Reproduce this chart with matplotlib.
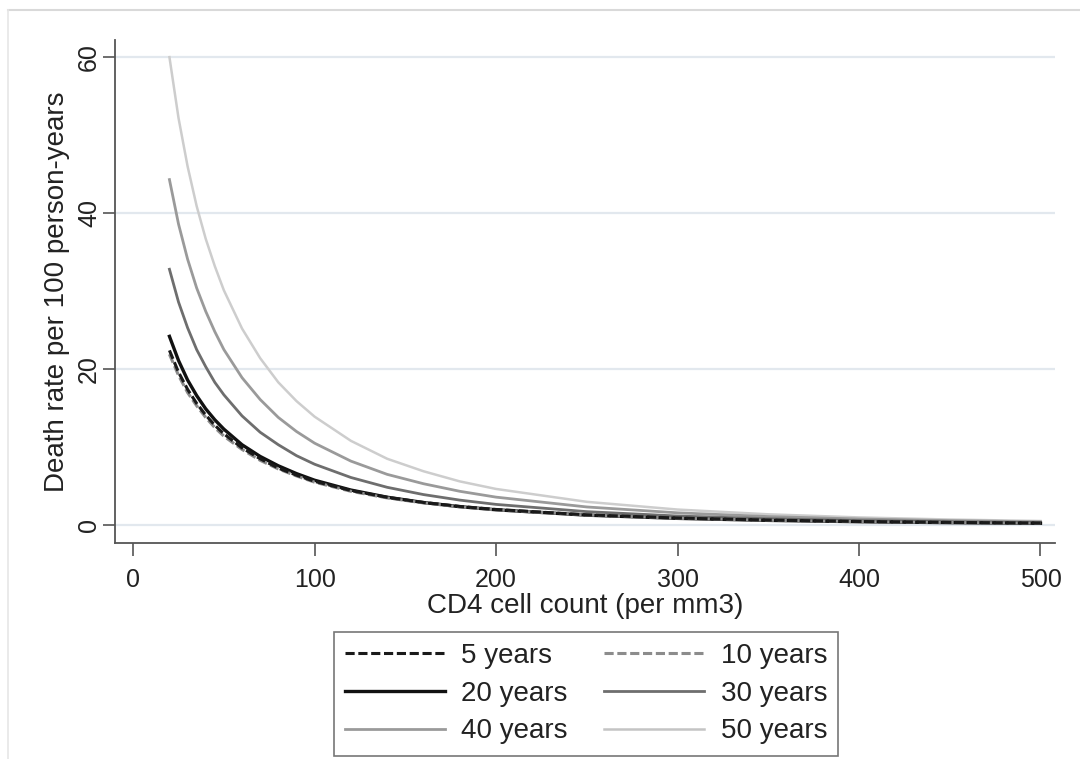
import numpy as np
import matplotlib
matplotlib.use("Agg")
import matplotlib.pyplot as plt
from matplotlib.lines import Line2D

plt.rcParams['font.family'] = ['Liberation Sans', 'DejaVu Sans']

# CD4 cell count (per mm3)
cd4 = [20, 25, 30, 35, 40, 45, 50, 60, 70, 80, 90, 100, 120, 140, 160, 180,
       200, 250, 300, 350, 400, 450, 500]

# death rate per 100 person-years
rate_5 = [22.4, 19.6, 17.4, 15.6, 14.1, 12.8, 11.7, 9.9, 8.5, 7.3, 6.4, 5.6,
          4.43, 3.56, 2.90, 2.39, 2.00, 1.31, 0.90, 0.64, 0.46, 0.34, 0.26]
rate_10 = [21.9, 19.2, 17.0, 15.3, 13.8, 12.5, 11.4, 9.7, 8.3, 7.2, 6.3, 5.5,
           4.33, 3.48, 2.84, 2.34, 1.95, 1.29, 0.88, 0.62, 0.45, 0.33, 0.25]
rate_20 = [24.2, 21.1, 18.6, 16.6, 14.9, 13.5, 12.3, 10.3, 8.8, 7.6, 6.6, 5.75,
           4.49, 3.57, 2.89, 2.36, 1.96, 1.27, 0.86, 0.60, 0.43, 0.31, 0.23]
rate_30 = [32.8, 28.6, 25.3, 22.5, 20.3, 18.3, 16.7, 14.0, 11.9, 10.3, 8.9, 7.8,
           6.1, 4.84, 3.91, 3.20, 2.65, 1.72, 1.16, 0.81, 0.58, 0.42, 0.31]
rate_40 = [44.3, 38.6, 34.1, 30.4, 27.4, 24.8, 22.5, 18.9, 16.1, 13.8, 12.0, 10.5,
           8.2, 6.5, 5.3, 4.33, 3.58, 2.32, 1.57, 1.09, 0.78, 0.57, 0.42]
rate_50 = [60.0, 52.2, 46.0, 40.9, 36.7, 33.2, 30.1, 25.2, 21.4, 18.3, 15.9, 13.9,
           10.8, 8.5, 6.9, 5.6, 4.63, 2.98, 1.99, 1.38, 0.98, 0.71, 0.52]

x_ticks = [0, 100, 200, 300, 400, 500]
y_ticks = [0, 20, 40, 60]

fig = plt.figure(figsize=(10.8, 7.59), dpi=100)
ax = fig.add_axes([115/1080, 1 - 543/759, 940/1080, 503/759])

# gridlines first
for yt in y_ticks:
    ax.axhline(yt, color='#e2e8ee', lw=1.6, zorder=0)

series = [
    ('5 years', rate_5, dict(color='#1a1a1a', ls=(0, (3, 1.2)), lw=2.2)),
    ('10 years', rate_10, dict(color='#8c8c8c', ls=(0, (3, 1.2)), lw=2.2)),
    ('20 years', rate_20, dict(color='#111111', ls='-', lw=2.4)),
    ('30 years', rate_30, dict(color='#6e6e6e', ls='-', lw=2.0)),
    ('40 years', rate_40, dict(color='#9a9a9a', ls='-', lw=2.0)),
    ('50 years', rate_50, dict(color='#cdcdcd', ls='-', lw=1.8)),
]

for name, vals, st in reversed(series):
    ax.plot(cd4, vals, label=name, zorder=3, **st)

ax.set_xlim(-10, 508)
ax.set_ylim(-2.3, 62.2)
ax.set_xticks(x_ticks)
ax.set_yticks(y_ticks)
ax.tick_params(axis='both', labelsize=18, length=9, width=1.2, color='#555555',
               labelcolor='#222222')
ax.tick_params(axis='x', pad=9)
ax.tick_params(axis='y', pad=1)
for lab in ax.get_yticklabels():
    lab.set_rotation(90)
    lab.set_va('center')

for s in ['top', 'right']:
    ax.spines[s].set_visible(False)
for s in ['left', 'bottom']:
    ax.spines[s].set_color('#555555')
    ax.spines[s].set_linewidth(1.3)

ax.set_xlabel('CD4 cell count (per mm3)', fontsize=20, color='#222222', labelpad=1)
ax.set_ylabel('Death rate per 100 person-years', fontsize=20, color='#222222',
              labelpad=5)

# legend: rows 5/10, 20/30, 40/50
order = ['5 years', '20 years', '40 years', '10 years', '30 years', '50 years']
leg_handles = []
for name in order:
    st = dict(next(s for n, v, s in series if n == name))
    if name == '50 years':
        st['color'] = '#c4c4c4'
    leg_handles.append(Line2D([], [], **st))
leg = fig.legend(leg_handles, order, loc='upper center',
                 bbox_to_anchor=(586/1080, 1 - 632/759), ncol=2, fontsize=20,
                 handlelength=3.6, handletextpad=0.6, columnspacing=1.3,
                 labelspacing=0.42, borderpad=0.4, borderaxespad=0,
                 fancybox=False, framealpha=1, edgecolor='#777777')
leg.get_frame().set_linewidth(1.2)
for t in leg.get_texts():
    t.set_color('#222222')

# outer graph border
fig.add_artist(Line2D([8/1080, 1], [1 - 10/759, 1 - 10/759], color='#d9d9d9',
                      lw=1.5, transform=fig.transFigure))
fig.add_artist(Line2D([8/1080, 8/1080], [0, 1 - 10/759], color='#e6e6e6',
                      lw=1.2, transform=fig.transFigure))

fig.savefig('out.png', dpi=100, facecolor='white')
